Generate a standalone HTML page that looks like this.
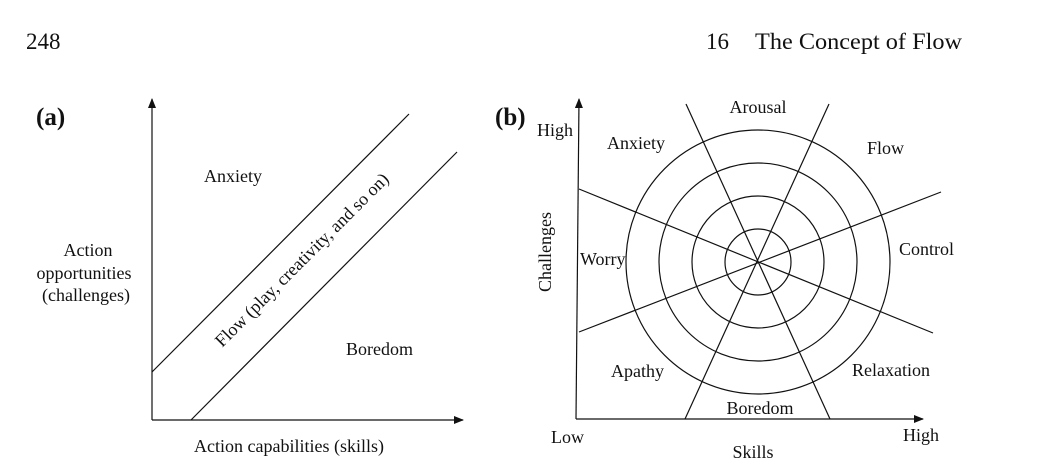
<!DOCTYPE html>
<html><head><meta charset="utf-8"><style>
html,body{margin:0;padding:0;background:#fff;}
svg{display:block;font-family:"Liberation Serif",serif;}
</style></head><body>
<svg width="1048" height="474" viewBox="0 0 1048 474" xmlns="http://www.w3.org/2000/svg">
<defs><marker id="ar" markerWidth="10" markerHeight="8" refX="9" refY="4" orient="auto" markerUnits="userSpaceOnUse"><path d="M0,0 L10,4 L0,8 z" fill="#111"/></marker></defs>
<g fill="#111" font-size="23">
<text x="26" y="49">248</text>
<text x="706" y="49">16</text>
<text x="755" y="49" textLength="207" lengthAdjust="spacingAndGlyphs">The Concept of Flow</text>
</g>
<!-- panel a -->
<g stroke="#111" fill="none" stroke-width="1.2">
<line x1="152" y1="420" x2="152" y2="99" marker-end="url(#ar)"/>
<line x1="152" y1="420" x2="463" y2="420" marker-end="url(#ar)"/>
<line x1="152" y1="372" x2="409" y2="114"/>
<line x1="191" y1="420" x2="457" y2="152"/>
</g>
<g fill="#111" font-size="18">
<text x="36" y="125" font-size="25" font-weight="bold">(a)</text>
<text x="204" y="182">Anxiety</text>
<text x="88" y="256" text-anchor="middle">Action</text>
<text x="84" y="279" text-anchor="middle">opportunities</text>
<text x="86" y="301" text-anchor="middle">(challenges)</text>
<text x="346" y="355">Boredom</text>
<text x="289" y="452" text-anchor="middle">Action capabilities (skills)</text>
<text transform="translate(306,264) rotate(-45)" text-anchor="middle">Flow (play, creativity, and so on)</text>
</g>
<!-- panel b -->
<g stroke="#111" fill="none" stroke-width="1.2">
<line x1="576" y1="419" x2="579" y2="99" marker-end="url(#ar)"/>
<line x1="576" y1="419" x2="923" y2="419" marker-end="url(#ar)"/>
<circle cx="758" cy="262" r="33"/>
<circle cx="758" cy="262" r="66"/>
<circle cx="758" cy="262" r="99"/>
<circle cx="758" cy="262" r="132"/>
<line x1="686" y1="104" x2="830" y2="419"/>
<line x1="829" y1="104" x2="685" y2="419"/>
<line x1="579" y1="189" x2="933" y2="333"/>
<line x1="579" y1="332" x2="941" y2="192"/>
</g>
<g fill="#111" font-size="18">
<text x="495" y="125" font-size="25" font-weight="bold">(b)</text>
<text x="537" y="136">High</text>
<text x="758" y="113" text-anchor="middle">Arousal</text>
<text x="607" y="149">Anxiety</text>
<text x="867" y="154">Flow</text>
<text x="899" y="255">Control</text>
<text x="580" y="265">Worry</text>
<text x="611" y="377">Apathy</text>
<text x="852" y="376">Relaxation</text>
<text x="760" y="414" text-anchor="middle">Boredom</text>
<text x="551" y="443">Low</text>
<text x="903" y="441">High</text>
<text x="753" y="458" text-anchor="middle">Skills</text>
<text transform="translate(551,252) rotate(-90)" text-anchor="middle">Challenges</text>
</g>
</svg>
</body></html>
